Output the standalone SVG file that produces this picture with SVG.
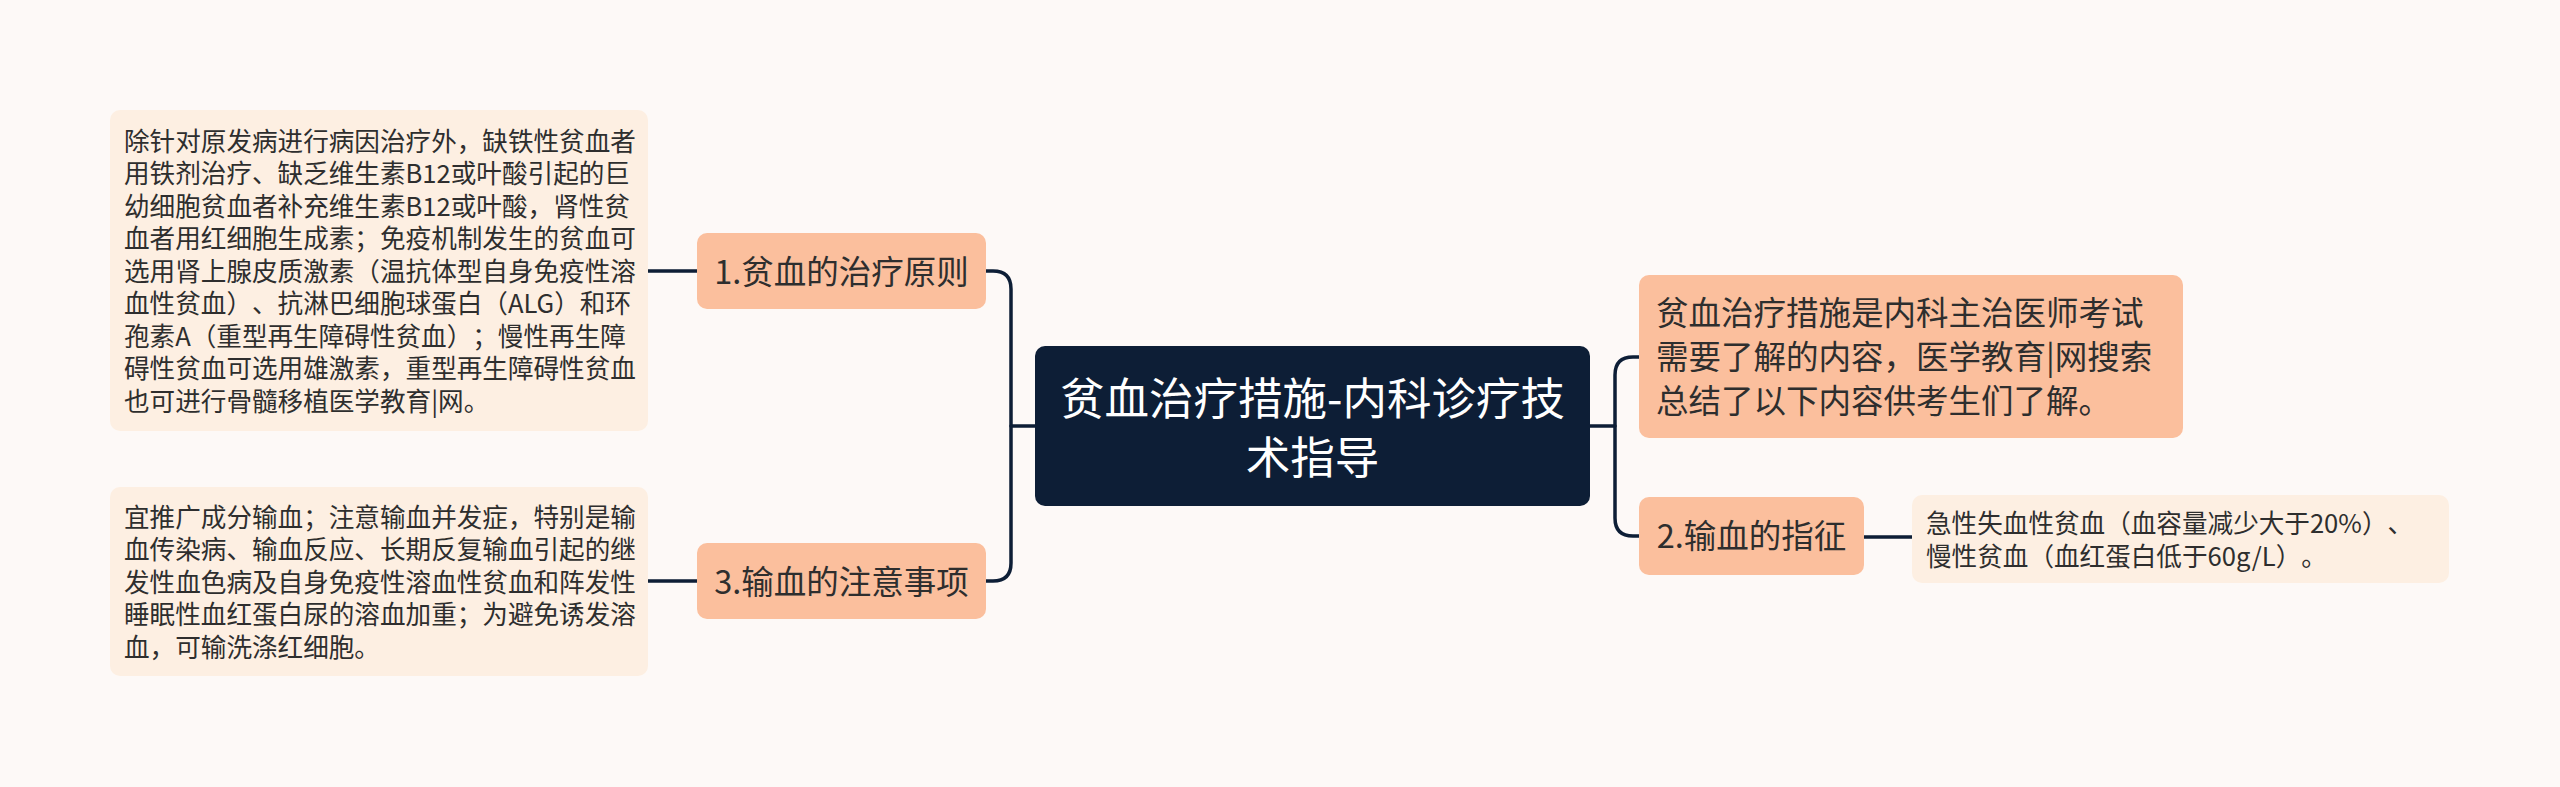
<svg xmlns="http://www.w3.org/2000/svg" width="2560" height="787" viewBox="0 0 2560 787">
<style>
.t{font-family:"Noto Sans CJK SC","Noto Sans",sans-serif;fill:#2E2E2E;text-spacing-trim:space-all}
.leaf{fill:#FDEFE2}
.l1{fill:#FBBF9D}
.leaft{font-size:25.6px}
.l1t{font-size:32.5px}
.ct{font-size:44.5px;fill:#FFFFFF;text-anchor:middle}
.conn{fill:none;stroke:#0D1E36;stroke-width:3.5;stroke-linecap:round}
</style>
<rect x="0" y="0" width="2560" height="787" fill="#FDF9F7"/>
<g id="connectors">
<path class="conn" d="M1035,426 H1011"/>
<path class="conn" d="M986,271 H993 Q1011,271 1011,289 V563 Q1011,581 993,581 H986"/>
<path class="conn" d="M697,271 H648"/>
<path class="conn" d="M697,581 H648"/>
<path class="conn" d="M1590,426 H1615"/>
<path class="conn" d="M1639,357 H1633 Q1615,357 1615,375 V518 Q1615,536 1633,536 H1639"/>
<path class="conn" d="M1864,537 H1912"/>
</g>
<g id="center">
<rect x="1035" y="346" width="555" height="160" rx="10" fill="#0D1E36"/>
<text class="t ct"><tspan x="1312.5" y="415">贫血治疗措施-内科诊疗技</tspan><tspan x="1312.5" y="474">术指导</tspan></text>
</g>
<g id="node1">
<rect class="l1" x="697" y="233" width="289" height="76" rx="10"/>
<text class="t l1t" x="841.5" y="283.5" text-anchor="middle">1.贫血的治疗原则</text>
</g>
<g id="leaf1">
<rect class="leaf" x="110" y="110" width="538" height="321" rx="10"/>
<text class="t leaft">
<tspan x="124" y="150.5">除针对原发病进行病因治疗外，缺铁性贫血者</tspan>
<tspan x="124" y="183">用铁剂治疗、缺乏维生素B12或叶酸引起的巨</tspan>
<tspan x="124" y="215.5">幼细胞贫血者补充维生素B12或叶酸，肾性贫</tspan>
<tspan x="124" y="248">血者用红细胞生成素；免疫机制发生的贫血可</tspan>
<tspan x="124" y="280.5">选用肾上腺皮质激素（温抗体型自身免疫性溶</tspan>
<tspan x="124" y="313">血性贫血）、抗淋巴细胞球蛋白（ALG）和环</tspan>
<tspan x="124" y="345.5">孢素A（重型再生障碍性贫血）；慢性再生障</tspan>
<tspan x="124" y="378">碍性贫血可选用雄激素，重型再生障碍性贫血</tspan>
<tspan x="124" y="410.5">也可进行骨髓移植医学教育|网。</tspan>
</text>
</g>
<g id="node3">
<rect class="l1" x="697" y="543" width="289" height="76" rx="10"/>
<text class="t l1t" x="841.5" y="593.5" text-anchor="middle">3.输血的注意事项</text>
</g>
<g id="leaf3">
<rect class="leaf" x="110" y="487" width="538" height="189" rx="10"/>
<text class="t leaft">
<tspan x="124" y="526.5">宜推广成分输血；注意输血并发症，特别是输</tspan>
<tspan x="124" y="559">血传染病、输血反应、长期反复输血引起的继</tspan>
<tspan x="124" y="591.5">发性血色病及自身免疫性溶血性贫血和阵发性</tspan>
<tspan x="124" y="624">睡眠性血红蛋白尿的溶血加重；为避免诱发溶</tspan>
<tspan x="124" y="656.5">血，可输洗涤红细胞。</tspan>
</text>
</g>
<g id="intro">
<rect class="l1" x="1639" y="275" width="544" height="163" rx="10"/>
<text class="t l1t">
<tspan x="1656" y="325">贫血治疗措施是内科主治医师考试</tspan>
<tspan x="1656" y="369">需要了解的内容，医学教育|网搜索</tspan>
<tspan x="1656" y="413">总结了以下内容供考生们了解。</tspan>
</text>
</g>
<g id="node2">
<rect class="l1" x="1639" y="497" width="225" height="78" rx="10"/>
<text class="t l1t" x="1751.5" y="548" text-anchor="middle">2.输血的指征</text>
</g>
<g id="leaf2">
<rect class="leaf" x="1912" y="495" width="537" height="88" rx="10"/>
<text class="t leaft">
<tspan x="1926" y="533">急性失血性贫血（血容量减少大于20%）、</tspan>
<tspan x="1926" y="566">慢性贫血（血红蛋白低于60g/L）。</tspan>
</text>
</g>
</svg>
